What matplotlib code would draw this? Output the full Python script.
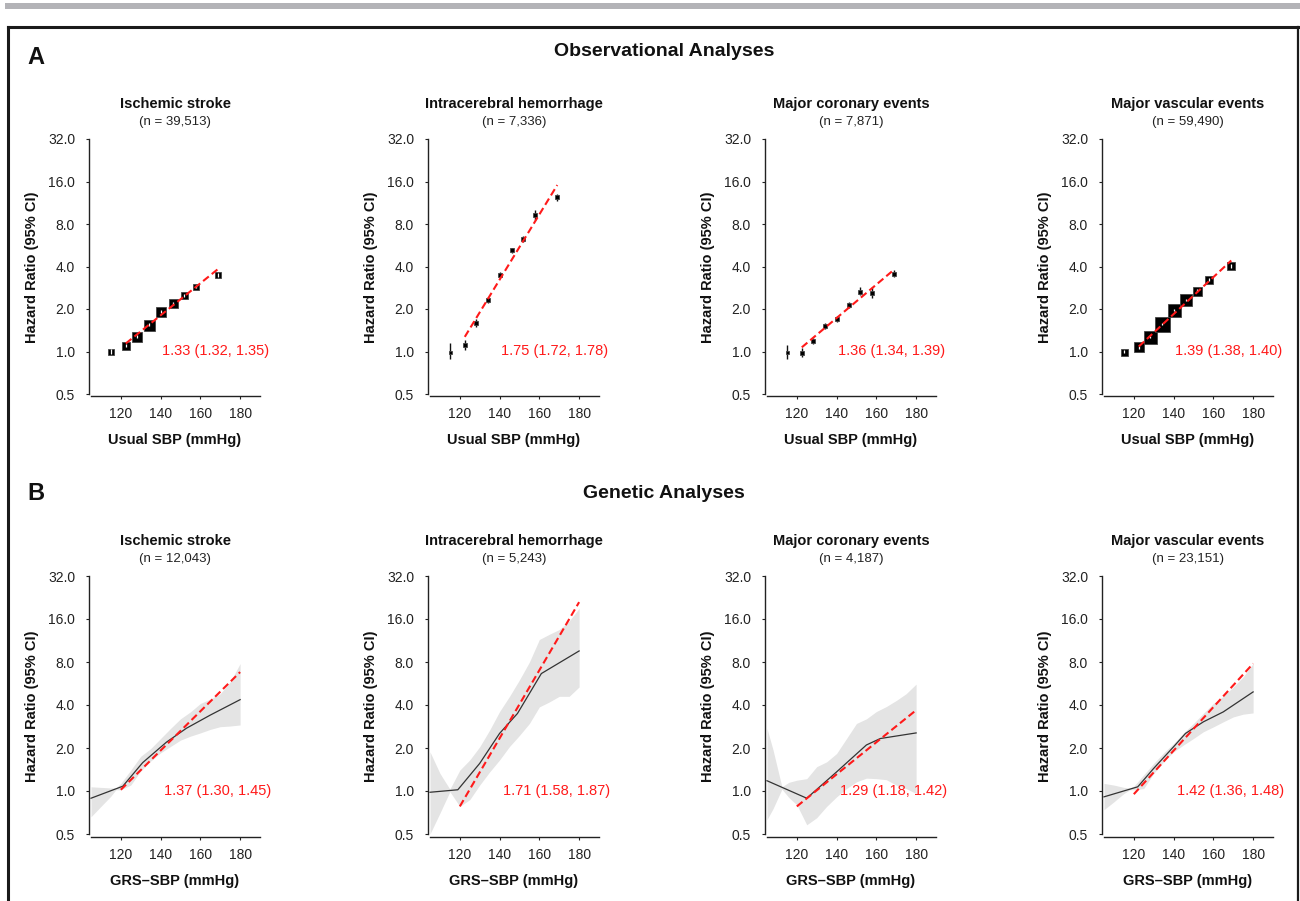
import matplotlib
matplotlib.use("Agg")
import matplotlib.pyplot as plt
from matplotlib.ticker import NullLocator, FixedLocator, FixedFormatter
from matplotlib.lines import Line2D
from matplotlib.patches import Rectangle

plt.rcParams['font.family'] = ['Liberation Sans', 'DejaVu Sans']

# ---------------- data ----------------
titles = ["Ischemic stroke", "Intracerebral hemorrhage", "Major coronary events", "Major vascular events"]
obs_n = ["(n = 39,513)", "(n = 7,336)", "(n = 7,871)", "(n = 59,490)"]
gen_n = ["(n = 12,043)", "(n = 5,243)", "(n = 4,187)", "(n = 23,151)"]

# Observational analyses (usual SBP groups)
obs_sbp = [115, 122.5, 128, 134, 140, 146, 152, 158, 169]

is_hr = [1.00, 1.10, 1.27, 1.55, 1.92, 2.19, 2.50, 2.88, 3.47]
is_lo = [0.96, 1.07, 1.24, 1.52, 1.88, 2.14, 2.44, 2.80, 3.35]
is_hi = [1.04, 1.13, 1.30, 1.58, 1.96, 2.24, 2.56, 2.96, 3.59]
is_w = [5.5, 8, 10, 11, 10, 9, 7, 6, 6]

ich_hr = [1.00, 1.11, 1.58, 2.33, 3.49, 5.20, 6.30, 9.30, 12.4]
ich_lo = [0.88, 1.02, 1.48, 2.22, 3.35, 4.95, 6.00, 8.60, 11.7]
ich_hi = [1.14, 1.21, 1.69, 2.45, 3.64, 5.45, 6.60, 10.1, 13.1]
ich_w = [3, 4, 5, 5, 5, 5, 5, 4, 5]

cor_hr = [1.00, 0.98, 1.19, 1.51, 1.69, 2.13, 2.66, 2.60, 3.55]
cor_lo = [0.89, 0.91, 1.13, 1.44, 1.62, 2.03, 2.50, 2.38, 3.35]
cor_hi = [1.12, 1.06, 1.25, 1.59, 1.77, 2.24, 2.84, 2.85, 3.76]
cor_w = [3, 4, 5, 5, 5, 5, 4, 4, 4]

vas_hr = [1.00, 1.07, 1.27, 1.56, 1.97, 2.33, 2.70, 3.22, 4.02]
vas_lo = [0.97, 1.05, 1.25, 1.54, 1.94, 2.29, 2.65, 3.15, 3.90]
vas_hi = [1.03, 1.09, 1.29, 1.58, 2.00, 2.37, 2.75, 3.29, 4.14]
vas_w = [7, 10, 13, 15, 13, 12, 9, 8, 8]

obs_fit_x = [122.5, 169]
is_fit = [1.14, 3.85]
ich_fit = [1.27, 15.1]
cor_fit = [1.07, 3.81]
vas_fit = [1.085, 4.41]

obs_est = ["1.33 (1.32, 1.35)", "1.75 (1.72, 1.78)", "1.36 (1.34, 1.39)", "1.39 (1.38, 1.40)"]

# Genetic analyses (GRS-SBP)
is_gx = [105, 121, 131, 143, 153, 165, 180]
is_gy = [0.89, 1.08, 1.58, 2.20, 2.75, 3.40, 4.36]
is_bx = [105, 110, 115, 117.5, 120, 125, 130, 135, 140, 145, 150, 155, 160, 165, 170, 175, 180]
is_bu = [1.07, 1.06, 1.05, 1.05, 1.13, 1.40, 1.75, 1.98, 2.33, 2.74, 3.20, 3.58, 4.10, 4.40, 4.80, 5.80, 7.80]
is_bl = [0.66, 0.78, 0.92, 1.02, 1.02, 1.10, 1.38, 1.62, 1.85, 2.05, 2.27, 2.42, 2.55, 2.70, 2.82, 2.85, 2.90]

ich_gx = [105, 119, 130, 140, 149, 161, 180]
ich_gy = [0.98, 1.02, 1.56, 2.53, 3.49, 6.64, 9.56]
ich_bx = [105, 110, 115, 120, 125, 130, 135, 140, 145, 150, 155, 160, 165, 170, 175, 180]
ich_bu = [1.88, 1.33, 1.03, 1.40, 1.65, 2.04, 2.67, 3.60, 4.60, 6.00, 8.00, 11.5, 12.5, 13.5, 15.5, 19.0]
ich_bl = [0.50, 0.70, 0.99, 0.78, 0.87, 1.10, 1.36, 1.65, 2.05, 2.45, 2.97, 3.88, 4.20, 4.60, 4.60, 5.35]

cor_gx = [105, 125, 140, 155, 162, 180]
cor_gy = [1.18, 0.89, 1.36, 2.10, 2.33, 2.55]
cor_bx = [105, 108, 112.5, 116, 120, 125, 130, 135, 140, 145, 150, 155, 160, 165, 170, 175, 180]
cor_bu = [2.74, 1.95, 1.07, 1.15, 1.19, 1.22, 1.48, 1.60, 1.83, 2.33, 2.97, 3.20, 3.60, 3.90, 4.30, 4.80, 5.60]
cor_bl = [0.63, 0.75, 1.03, 0.90, 0.80, 0.58, 0.65, 0.78, 0.91, 1.04, 1.16, 1.23, 1.22, 1.20, 1.10, 1.04, 0.96]

vas_gx = [105, 122, 130, 140, 146, 155, 165, 180]
vas_gy = [0.91, 1.07, 1.44, 2.04, 2.53, 3.05, 3.58, 4.94]
vas_bx = [105, 110, 115, 118, 120, 125, 130, 135, 140, 145, 150, 155, 160, 165, 170, 175, 180]
vas_bu = [1.13, 1.10, 1.06, 1.05, 1.08, 1.30, 1.56, 1.85, 2.15, 2.55, 2.97, 3.50, 4.10, 4.60, 5.35, 6.30, 7.80]
vas_bl = [0.74, 0.84, 0.96, 1.02, 1.02, 1.04, 1.33, 1.60, 1.88, 2.10, 2.33, 2.60, 2.81, 3.05, 3.30, 3.45, 3.52]

gen_fit_x = [120, 180]
is_gfit = [1.02, 6.8]
ich_gfit = [0.78, 21.0]
cor_gfit = [0.78, 3.68]
vas_gfit = [0.95, 7.8]

gen_est = ["1.37 (1.30, 1.45)", "1.71 (1.58, 1.87)", "1.29 (1.18, 1.42)", "1.42 (1.36, 1.48)"]

yticks = [0.5, 1, 2, 4, 8, 16, 32]
ytick_labels = ["0.5", "1.0", "2.0", "4.0", "8.0", "16.0", "32.0"]
xticks = [120, 140, 160, 180]

# ---------------- layout ----------------
W, H = 1300, 901
fig = plt.figure(figsize=(W / 100, H / 100), dpi=100)

col_left = [89, 428, 765, 1102]
ax_w = 172
rows = {"A": (139, 396, 394), "B": (576, 837, 834)}  # top px(=32), bottom px, px of 0.5
XLIM = (104, 190.5)
AXC = "#222222"
RED = "#ff1a1a"


def make_ax(left, top, bottom, y05):
    rect = [left / W, 1 - bottom / H, ax_w / W, (bottom - top) / H]
    ax = fig.add_axes(rect)
    ax.set_yscale("log", base=2)
    per_dbl = (y05 - top) / 6.0
    ymin = 0.5 * 2 ** (-(bottom - y05) / per_dbl)
    ax.set_ylim(ymin, 32)
    ax.set_xlim(*XLIM)
    ax.patch.set_alpha(0)
    for s in ("top", "right"):
        ax.spines[s].set_visible(False)
    ax.spines["left"].set_bounds(0.5, 32)
    ax.spines["bottom"].set_bounds(105, 190)
    for s in ("left", "bottom"):
        ax.spines[s].set_linewidth(1.0)
        ax.spines[s].set_color(AXC)
    ax.yaxis.set_major_locator(FixedLocator(yticks))
    ax.yaxis.set_major_formatter(FixedFormatter(ytick_labels))
    ax.yaxis.set_minor_locator(NullLocator())
    ax.set_xticks(xticks)
    ax.set_xticklabels([str(v) for v in xticks])
    ax.tick_params(axis="y", length=2.5, width=0.8, pad=7.5, labelsize=10, colors=AXC)
    ax.tick_params(axis="x", length=2.5, width=0.8, pad=5.5, labelsize=10, colors=AXC)
    return ax


def decorate(ax, top, bottom, title, ntext, xlabel):
    h = bottom - top
    ax.text(0.5, 1 + 35 / h, title, transform=ax.transAxes,
            ha="center", va="center", fontsize=10.5, fontweight="bold", color="#111111")
    ax.text(0.5, 1 + 17 / h, ntext, transform=ax.transAxes,
            ha="center", va="center", fontsize=9.5, color="#222222")
    ax.set_xlabel(xlabel, fontsize=10.5, fontweight="bold", color="#111111")
    ax.xaxis.set_label_coords(0.5, -44 / h)
    ax.xaxis.label.set_va("center")
    ax.set_ylabel("Hazard Ratio (95% CI)", fontsize=10.5, fontweight="bold", color="#111111")
    ax.yaxis.set_label_coords(-57 / ax_w, 0.5)
    ax.yaxis.label.set_va("center")


obs_sets = [
    (is_hr, is_lo, is_hi, is_w, is_fit, True),
    (ich_hr, ich_lo, ich_hi, ich_w, ich_fit, False),
    (cor_hr, cor_lo, cor_hi, cor_w, cor_fit, False),
    (vas_hr, vas_lo, vas_hi, vas_w, vas_fit, True),
]

top, bottom, y05 = rows["A"]
for i, (hr, lo, hi, wts, fit, big) in enumerate(obs_sets):
    ax = make_ax(col_left[i], top, bottom, y05)
    if not big:
        ax.vlines(obs_sbp, lo, hi, color="#111111", lw=1.0, zorder=2)
    for x, y, w in zip(obs_sbp, hr, wts):
        ax.plot([x], [y], marker="s", ms=w * 0.72, mfc="black", mec="#444444", mew=0.6,
                ls="none", zorder=3)
    if big:
        ax.vlines(obs_sbp, lo, hi, color="white", lw=0.9, zorder=4)
    ax.plot(obs_fit_x, fit, color=RED, ls=(0, (3.5, 1.8)), lw=1.5, zorder=5)
    ax.text(140.5, 1.0, obs_est[i], color=RED, fontsize=10.5, ha="left", va="center", zorder=6)
    decorate(ax, top, bottom, titles[i], obs_n[i], "Usual SBP (mmHg)")

gen_sets = [
    (is_gx, is_gy, is_bx, is_bu, is_bl, is_gfit),
    (ich_gx, ich_gy, ich_bx, ich_bu, ich_bl, ich_gfit),
    (cor_gx, cor_gy, cor_bx, cor_bu, cor_bl, cor_gfit),
    (vas_gx, vas_gy, vas_bx, vas_bu, vas_bl, vas_gfit),
]

top, bottom, y05 = rows["B"]
for i, (gx, gy, bx, bu, bl, fit) in enumerate(gen_sets):
    ax = make_ax(col_left[i], top, bottom, y05)
    ax.fill_between(bx, bl, bu, color="#e4e4e4", lw=0, zorder=1)
    ax.plot(gx, gy, color="#333333", lw=0.9, zorder=3)
    ax.plot(gen_fit_x, fit, color=RED, ls=(0, (3.5, 1.8)), lw=1.5, zorder=4)
    ax.text(141.5, 1.0, gen_est[i], color=RED, fontsize=10.5, ha="left", va="center", zorder=6)
    decorate(ax, top, bottom, titles[i], gen_n[i], "GRS\u2013SBP (mmHg)")

# ---------------- headings and frame ----------------
fig.text(664 / W, 1 - 52 / H, "Observational Analyses", ha="center", va="center",
         fontsize=14, fontweight="bold", color="#111111")
fig.text(664 / W, 1 - 493 / H, "Genetic Analyses", ha="center", va="center",
         fontsize=14, fontweight="bold", color="#111111")
fig.text(36 / W, 1 - 57 / H, "A", ha="center", va="center", fontsize=17, fontweight="bold", color="#111111")
fig.text(36 / W, 1 - 493 / H, "B", ha="center", va="center", fontsize=17, fontweight="bold", color="#111111")

fig.add_artist(Rectangle((5 / W, 1 - 8.5 / H), 1 - 5 / W, 5.5 / H, transform=fig.transFigure,
                         facecolor="#b3b3b7", edgecolor="none"))
frame_kw = dict(transform=fig.transFigure, color="#1a1a1a", lw=2.2, solid_capstyle="projecting")
fig.add_artist(Line2D([7.5 / W, 1298 / W], [1 - 27 / H, 1 - 27 / H], **frame_kw))
fig.add_artist(Line2D([7.5 / W, 7.5 / W], [1 - 27 / H, 0], **frame_kw))
fig.add_artist(Line2D([1298 / W, 1298 / W], [1 - 27 / H, 0], **dict(frame_kw, lw=1.6)))

fig.savefig("out.png", dpi=100, facecolor="white")
